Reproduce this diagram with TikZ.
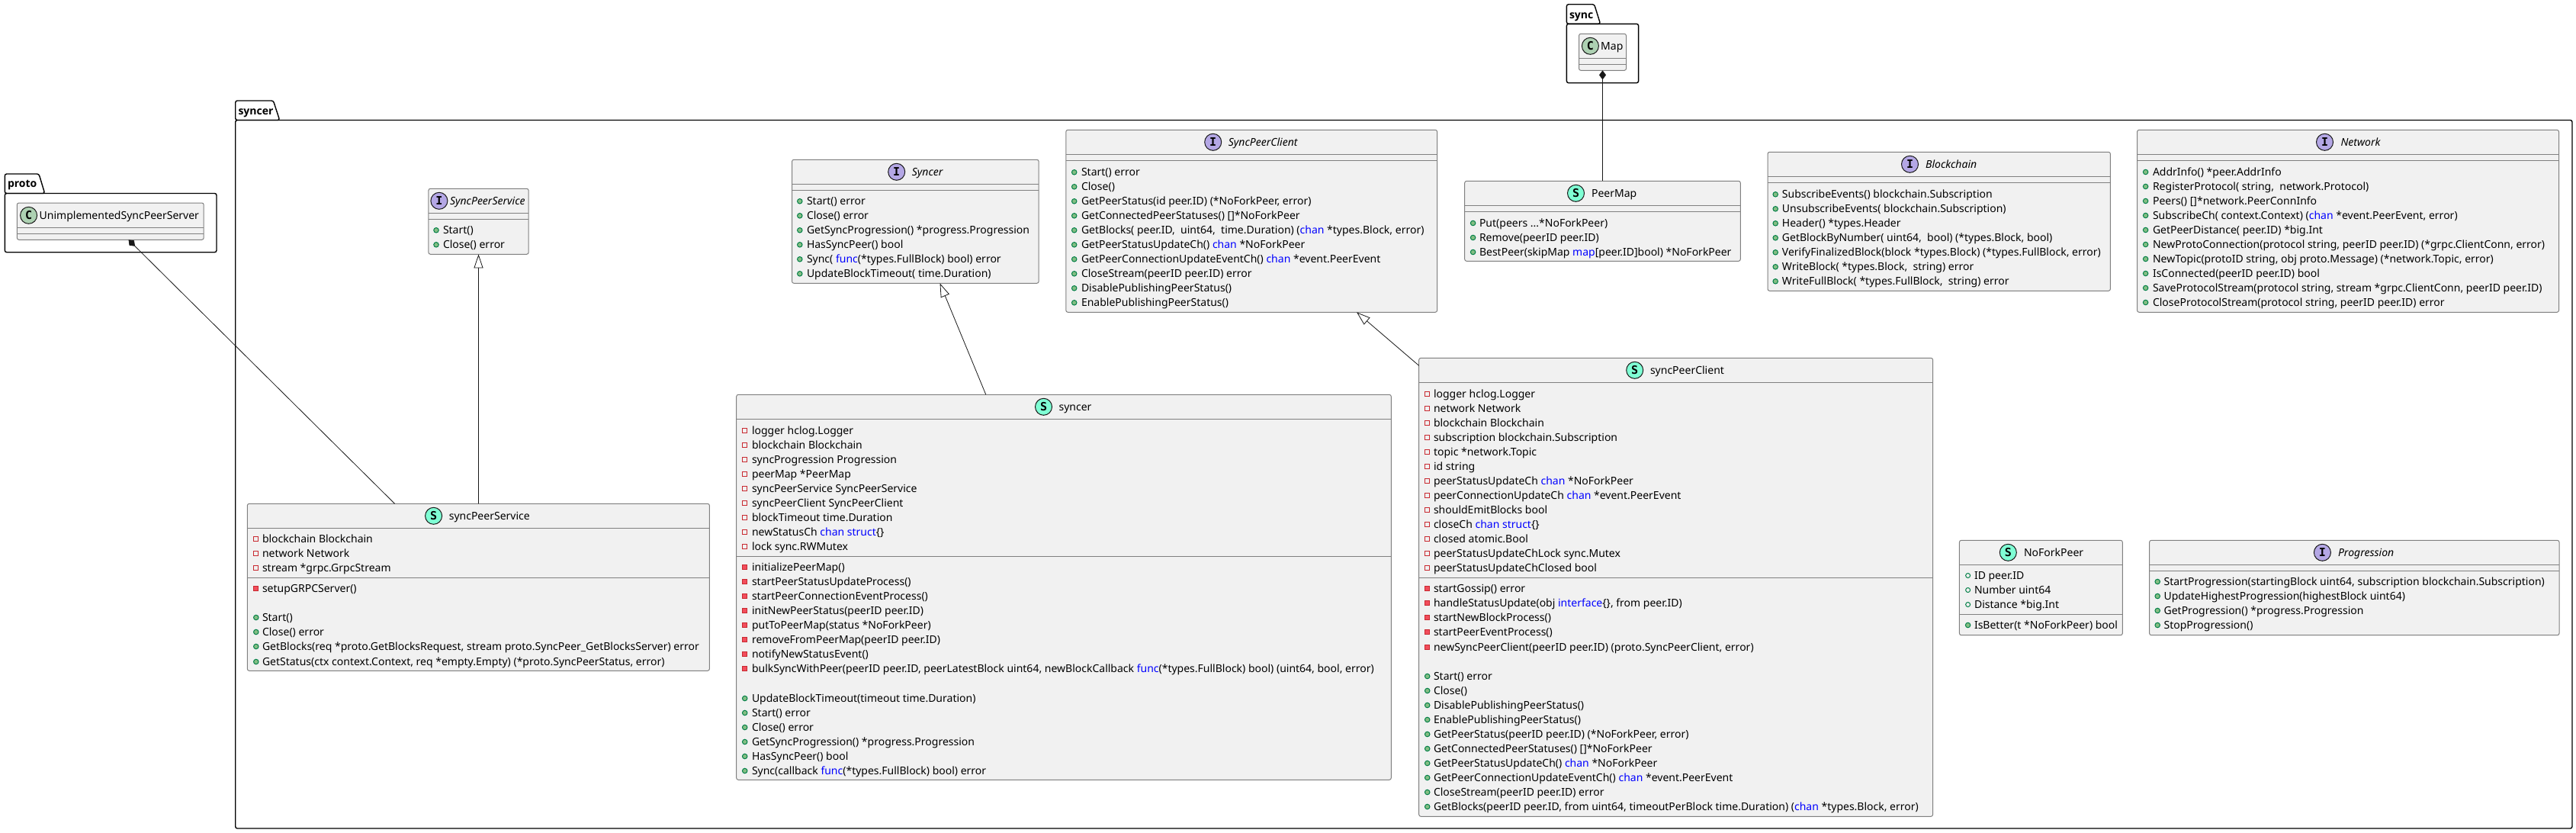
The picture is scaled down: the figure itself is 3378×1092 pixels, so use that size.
\documentclass[tikz,border=0pt]{standalone}
\usepackage{fontspec}
\setmainfont{Noto Sans}
\newfontfamily\circlefont{DejaVu Sans Mono}
\newfontfamily\pkgfont{Open Sans}
\usetikzlibrary{arrows.meta}
\definecolor{boxfill}{HTML}{F1F1F1}
\definecolor{boxline}{HTML}{808080}
\definecolor{inkc}{HTML}{181818}
\definecolor{chanblue}{HTML}{0000FF}
\definecolor{spotC}{HTML}{ADD1B2}
\definecolor{spotI}{HTML}{B4A7E5}
\definecolor{spotS}{HTML}{7FFFD4}
\definecolor{pubedge}{HTML}{038048}
\definecolor{pubfill}{HTML}{84BE84}
\definecolor{privedge}{HTML}{C82930}
\definecolor{privfill}{HTML}{F24D5C}
\newcommand{\kw}[1]{\textcolor{chanblue}{#1}}
\newcounter{rown}
\newcommand{\rowx}[2]{\def\textxx{#1}\def\iconxx{#2}}
\newcommand{\memrow}[3]{\stepcounter{rown}%
  \node[#1] (ic\therown) at (\iconxx,#2+0.5) {};%
  \node[memtext] (tx\therown) at (\textxx,#2+5) {#3};}
\newcommand{\FP}[2]{\memrow{privfield}{#1}{#2}}
\newcommand{\MP}[2]{\memrow{privmethod}{#1}{#2}}
\newcommand{\MU}[2]{\memrow{pubmethod}{#1}{#2}}
\newcommand{\FU}[2]{\memrow{pubfield}{#1}{#2}}
% name, x1, y1, x2, y2
\newcommand{\classbox}[5]{%
  \pgfmathsetmacro{\bw}{#4-#2}\pgfmathsetmacro{\bh}{#5-#3}%
  \node[classrect,minimum width=\bw pt,minimum height=\bh pt] (#1) at ({(#2+#4)/2},{(#3+#5)/2}) {};}
\newcommand{\sepat}[2]{\draw[sepline] (#1.west |- 0,#2) -- (#1.east |- 0,#2);}
% name, letter, colour, cx, cy, tx, title
\newcommand{\classhead}[7]{%
  \node[spot,fill=#3] (#1spot) at (#4,#5) {\circlefont\bfseries #2};%
  \node[memtext] (#1title) at (#6,#5+5.3) {#7};}
\newcommand{\pkg}[7]{% L tabtop bodytop tabrighttop tabrightbot R bottom
  \draw[pkgline] (#1,#3) -- (#1,#2) -- (#4,#2) -- (#5,#3) -- cycle;
  \draw[pkgline] (#1,#3) -- (#6,#3) -- (#6,#7) -- (#1,#7) -- cycle;}
\tikzset{
  x=1pt,y=-1pt,
  classrect/.style={draw=boxline,fill=boxfill,line width=1pt,rounded corners=2.5pt,inner sep=0pt,outer sep=0pt},
  sepline/.style={draw=boxline,line width=1pt},
  pkgline/.style={draw=black,line width=1.4pt,rounded corners=2.5pt},
  memtext/.style={anchor=base west,inner sep=0pt,outer sep=0pt,text=black,font=\fontsize{14}{19}\selectfont},
  pkgtext/.style={anchor=base west,inner sep=0pt,outer sep=0pt,text=black,font=\pkgfont\bfseries\fontsize{14}{19}\selectfont},
  spot/.style={circle,draw=inkc,line width=1pt,minimum size=22pt,inner sep=0pt,text=black,font=\fontsize{15}{15}\selectfont},
  privfield/.style={rectangle,draw=privedge,fill=none,line width=1pt,minimum size=6pt,inner sep=0pt},
  privmethod/.style={rectangle,draw=privedge,fill=privfill,line width=1pt,minimum size=6pt,inner sep=0pt},
  pubfield/.style={circle,draw=pubedge,fill=none,line width=1pt,minimum size=6pt,inner sep=0pt},
  pubmethod/.style={circle,draw=pubedge,fill=pubfill,line width=1pt,minimum size=6.5pt,inner sep=0pt},
  extends/.style={draw=inkc,line width=0.8pt,{Triangle[open,fill=white,length=18pt,width=12pt]}-},
  composed/.style={draw=inkc,line width=0.8pt,{Diamond[fill=inkc,length=12pt,width=9pt]}-},
}
\begin{document}
\begin{tikzpicture}
\useasboundingbox (0,0) rectangle (3378,1092);
% packages
\pkg{6.3}{228}{253.5}{51}{58.7}{284}{330.7}
\node[pkgtext] (protolabel) at (10,245) {proto};
\pkg{308.7}{132}{157.5}{358.4}{366.7}{3373}{1086}
\node[pkgtext] (syncerlabel) at (312.5,150.5) {syncer};
\pkg{2054.4}{5.7}{31.3}{2090.6}{2098.6}{2148.6}{108.7}
\node[pkgtext] (synclabel) at (2058,24) {sync};

% class boxes
\classbox{unimpl}{22.3}{266}{267.2}{314.3}
\classbox{ispsvc}{561.9}{247.3}{693.2}{333.3}
\classbox{sps}{324.3}{660.3}{930.4}{879.3}
\classbox{isyncer}{1038.5}{209.3}{1362.2}{371.3}
\classbox{ispc}{1397.8}{170.3}{1884.6}{409.3}
\classbox{ssyncer}{965.7}{517.3}{1824.3}{1022.3}
\classbox{spc}{1860.7}{469.3}{2534.6}{1070.3}
\classbox{map}{2070.5}{44.3}{2132.5}{92.3}
\classbox{peermap}{1920.7}{237.3}{2282.3}{342.3}
\classbox{iblock}{2318}{199.3}{2767.4}{381.3}
\classbox{inet}{2802.5}{170.3}{3355.5}{409.3}
\classbox{nofork}{2569.4}{708.3}{2783.3}{832.7}
\classbox{iprog}{2818.6}{708.3}{3356}{832.7}

% connectors
\draw[composed] ([xshift=146.2pt]unimpl.south west) -- ([xshift=193.3pt]sps.north west);
\draw[extends] ([xshift=65.6pt]ispsvc.south west) -- ([xshift=303.1pt]sps.north west);
\draw[extends] ([xshift=194pt]isyncer.south west) -- ([xshift=327.1pt]ssyncer.north west);
\draw[extends] ([xshift=381.2pt]ispc.south west) -- ([yshift=-10pt]spc.north west);
\draw[composed] (map.south) -- ([xshift=180.8pt]peermap.north west);

% unimpl
\classhead{unimpl}{C}{spotC}{37.6}{282.3}{51.7}{UnimplementedSyncPeerServer}
\sepat{unimpl}{298.3}\sepat{unimpl}{306.3}
% map
\classhead{map}{C}{spotC}{2085.4}{60.3}{2099.2}{Map}
\sepat{map}{76.3}\sepat{map}{84.3}

% SyncPeerService interface
\classhead{ispsvc}{I}{spotI}{575.9}{263.3}{590}{\itshape SyncPeerService}
\sepat{ispsvc}{279.3}\sepat{ispsvc}{287.3}
\rowx{581}{572}
\MU{301.3}{Start()}
\MU{320.3}{Close() error}

% syncPeerService
\classhead{sps}{S}{spotS}{568.6}{676.3}{588.8}{syncPeerService}
\sepat{sps}{692.3}\sepat{sps}{757.3}
\rowx{344}{335.8}
\FP{706}{blockchain Blockchain}
\FP{725}{network Network}
\FP{744}{stream *grpc.GrpcStream}
\MP{771}{setupGRPCServer()}
\MU{809}{Start()}
\MU{828}{Close() error}
\MU{847}{GetBlocks(req *proto.GetBlocksRequest, stream proto.SyncPeer\_GetBlocksServer) error}
\MU{867}{GetStatus(ctx context.Context, req *empty.Empty) (*proto.SyncPeerStatus, error)}

% Syncer interface
\classhead{isyncer}{I}{spotI}{1175.7}{225.3}{1195.8}{\itshape Syncer}
\sepat{isyncer}{241.3}\sepat{isyncer}{249.3}
\rowx{1058}{1048.8}
\MU{263.3}{Start() error}
\MU{282.3}{Close() error}
\MU{301.3}{GetSyncProgression() *progress.Progression}
\MU{320.3}{HasSyncPeer() bool}
\MU{339.3}{Sync( \kw{func}(*types.FullBlock) bool) error}
\MU{358.3}{UpdateBlockTimeout( time.Duration)}

% SyncPeerClient interface
\classhead{ispc}{I}{spotI}{1590.7}{186.3}{1610.8}{\itshape SyncPeerClient}
\sepat{ispc}{202.3}\sepat{ispc}{210.3}
\rowx{1418}{1408.7}
\MU{225.3}{Start() error}
\MU{244.3}{Close()}
\MU{263.3}{GetPeerStatus(id peer.ID) (*NoForkPeer, error)}
\MU{282.3}{GetConnectedPeerStatuses() []*NoForkPeer}
\MU{301.3}{GetBlocks( peer.ID,\ \ uint64,\ \ time.Duration) (\kw{chan} *types.Block, error)}
\MU{320.3}{GetPeerStatusUpdateCh() \kw{chan} *NoForkPeer}
\MU{339.3}{GetPeerConnectionUpdateEventCh() \kw{chan} *event.PeerEvent}
\MU{358.3}{CloseStream(peerID peer.ID) error}
\MU{377.3}{DisablePublishingPeerStatus()}
\MU{396.3}{EnablePublishingPeerStatus()}

% syncer struct
\classhead{ssyncer}{S}{spotS}{1368.5}{533.3}{1388.6}{syncer}
\sepat{ssyncer}{549.3}\sepat{ssyncer}{729.3}
\rowx{986}{976.7}
\FP{564}{logger hclog.Logger}
\FP{583}{blockchain Blockchain}
\FP{602}{syncProgression Progression}
\FP{621}{peerMap *PeerMap}
\FP{640}{syncPeerService SyncPeerService}
\FP{659}{syncPeerClient SyncPeerClient}
\FP{678}{blockTimeout time.Duration}
\FP{697}{newStatusCh \kw{chan struct}\{\}}
\FP{716}{lock sync.RWMutex}
\MP{743.3}{initializePeerMap()}
\MP{762.3}{startPeerStatusUpdateProcess()}
\MP{781.3}{startPeerConnectionEventProcess()}
\MP{800.3}{initNewPeerStatus(peerID peer.ID)}
\MP{819.3}{putToPeerMap(status *NoForkPeer)}
\MP{838.3}{removeFromPeerMap(peerID peer.ID)}
\MP{857.3}{notifyNewStatusEvent()}
\MP{876}{bulkSyncWithPeer(peerID peer.ID, peerLatestBlock uint64, newBlockCallback \kw{func}(*types.FullBlock) bool) (uint64, bool, error)}
\MU{915}{UpdateBlockTimeout(timeout time.Duration)}
\MU{934}{Start() error}
\MU{953}{Close() error}
\MU{972}{GetSyncProgression() *progress.Progression}
\MU{991}{HasSyncPeer() bool}
\MU{1010}{Sync(callback \kw{func}(*types.FullBlock) bool) error}

% syncPeerClient struct
\classhead{spc}{S}{spotS}{2143.7}{485.3}{2164}{syncPeerClient}
\sepat{spc}{501.3}\sepat{spc}{757.3}
\rowx{1880}{1871.7}
\FP{516}{logger hclog.Logger}
\FP{535}{network Network}
\FP{554}{blockchain Blockchain}
\FP{573}{subscription blockchain.Subscription}
\FP{592}{topic *network.Topic}
\FP{611}{id string}
\FP{630}{peerStatusUpdateCh \kw{chan} *NoForkPeer}
\FP{649}{peerConnectionUpdateCh \kw{chan} *event.PeerEvent}
\FP{668}{shouldEmitBlocks bool}
\FP{687}{closeCh \kw{chan struct}\{\}}
\FP{706}{closed atomic.Bool}
\FP{725}{peerStatusUpdateChLock sync.Mutex}
\FP{744}{peerStatusUpdateChClosed bool}
\MP{771}{startGossip() error}
\MP{790}{handleStatusUpdate(obj \kw{interface}\{\}, from peer.ID)}
\MP{809}{startNewBlockProcess()}
\MP{828}{startPeerEventProcess()}
\MP{848}{newSyncPeerClient(peerID peer.ID) (proto.SyncPeerClient, error)}
\MU{886}{Start() error}
\MU{905}{Close()}
\MU{924}{DisablePublishingPeerStatus()}
\MU{943}{EnablePublishingPeerStatus()}
\MU{962}{GetPeerStatus(peerID peer.ID) (*NoForkPeer, error)}
\MU{981}{GetConnectedPeerStatuses() []*NoForkPeer}
\MU{1000}{GetPeerStatusUpdateCh() \kw{chan} *NoForkPeer}
\MU{1019}{GetPeerConnectionUpdateEventCh() \kw{chan} *event.PeerEvent}
\MU{1038}{CloseStream(peerID peer.ID) error}
\MU{1057}{GetBlocks(peerID peer.ID, from uint64, timeoutPerBlock time.Duration) (\kw{chan} *types.Block, error)}

% PeerMap
\classhead{peermap}{S}{spotS}{2066.5}{253.3}{2087.1}{PeerMap}
\sepat{peermap}{269.3}\sepat{peermap}{277.3}
\rowx{1940}{1931.6}
\MU{292}{Put(peers ...*NoForkPeer)}
\MU{311}{Remove(peerID peer.ID)}
\MU{330}{BestPeer(skipMap \kw{map}[peer.ID]bool) *NoForkPeer}

% Blockchain
\classhead{iblock}{I}{spotI}{2504.5}{215.3}{2525.2}{\itshape Blockchain}
\sepat{iblock}{231.3}\sepat{iblock}{239.3}
\rowx{2336.9}{2328.2}
\MU{254.3}{SubscribeEvents() blockchain.Subscription}
\MU{273.3}{UnsubscribeEvents( blockchain.Subscription)}
\MU{292.3}{Header() *types.Header}
\MU{311.3}{GetBlockByNumber( uint64,\ \ bool) (*types.Block, bool)}
\MU{330.3}{VerifyFinalizedBlock(block *types.Block) (*types.FullBlock, error)}
\MU{349.3}{WriteBlock( *types.Block,\ \ string) error}
\MU{368.3}{WriteFullBlock( *types.FullBlock,\ \ string) error}

% Network
\classhead{inet}{I}{spotI}{3048.5}{186.3}{3069.5}{\itshape Network}
\sepat{inet}{202.3}\sepat{inet}{210.3}
\rowx{2823}{2813.6}
\MU{225}{AddrInfo() *peer.AddrInfo}
\MU{244}{RegisterProtocol( string,\ \ network.Protocol)}
\MU{263}{Peers() []*network.PeerConnInfo}
\MU{282}{SubscribeCh( context.Context) (\kw{chan} *event.PeerEvent, error)}
\MU{301}{GetPeerDistance( peer.ID) *big.Int}
\MU{320}{NewProtoConnection(protocol string, peerID peer.ID) (*grpc.ClientConn, error)}
\MU{339}{NewTopic(protoID string, obj proto.Message) (*network.Topic, error)}
\MU{358}{IsConnected(peerID peer.ID) bool}
\MU{377}{SaveProtocolStream(protocol string, stream *grpc.ClientConn, peerID peer.ID)}
\MU{396}{CloseProtocolStream(protocol string, peerID peer.ID) error}

% NoForkPeer
\classhead{nofork}{S}{spotS}{2633.3}{724.3}{2654}{NoForkPeer}
\sepat{nofork}{740.3}\sepat{nofork}{805.3}
\rowx{2589}{2580.6}
\FU{754}{ID peer.ID}
\FU{773}{Number uint64}
\FU{792}{Distance *big.Int}
\MU{819}{IsBetter(t *NoForkPeer) bool}

% Progression
\classhead{iprog}{I}{spotI}{3045.4}{724.3}{3066}{\itshape Progression}
\sepat{iprog}{740.3}\sepat{iprog}{748.3}
\rowx{2837.6}{2829.2}
\MU{762}{StartProgression(startingBlock uint64, subscription blockchain.Subscription)}
\MU{781}{UpdateHighestProgression(highestBlock uint64)}
\MU{800}{GetProgression() *progress.Progression}
\MU{819}{StopProgression()}
\end{tikzpicture}
\end{document}
